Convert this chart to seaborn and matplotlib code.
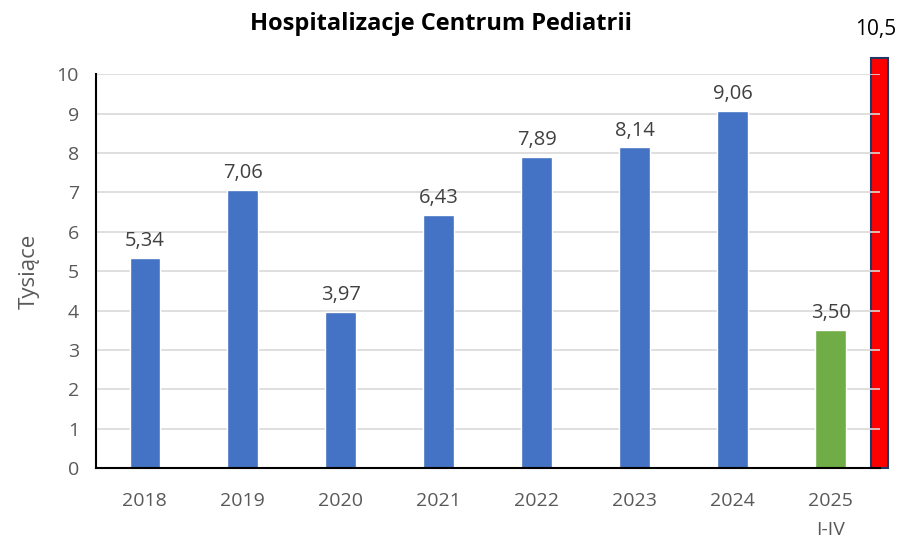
import pandas as pd
import seaborn as sns
import matplotlib.pyplot as plt

# dane (tysiące hospitalizacji)
years = ["2018", "2019", "2020", "2021", "2022", "2023", "2024", "2025\nI-IV"]
values = [5.34, 7.06, 3.97, 6.43, 7.89, 8.14, 9.06, 3.50]
kinds = ["full", "full", "full", "full", "full", "full", "full", "partial"]
target_value = 10.4
target_label = "10,5"

df = pd.DataFrame({"rok": years, "wartosc": values, "typ": kinds})

sns.set_theme(style="white")
plt.rcParams["font.family"] = ["Open Sans", "DejaVu Sans"]

fig = plt.figure(figsize=(9.03, 5.38), dpi=100)
ax = fig.add_axes([0.106, 0.130, 0.868, 0.732])

sns.barplot(
    data=df, x="rok", y="wartosc", hue="typ",
    palette={"full": "#4472C4", "partial": "#70AD47"},
    width=0.31, dodge=False, legend=False, saturation=1, ax=ax, zorder=2,
)

for c in ax.containers:
    ax.bar_label(c, labels=[f"{v:.2f}".replace(".", ",") for v in c.datavalues],
                 padding=5, fontsize=14.5, color="#404040")

# czerwony słupek na prawej krawędzi
red = ax.bar([len(years) - 0.5], [target_value], width=0.17, color="#FF0000",
             edgecolor="#1F3864", linewidth=1.5, zorder=0.2, clip_on=False)
ax.annotate(target_label, xy=(len(years) - 0.5, target_value), xytext=(-3, 13),
            textcoords="offset points", ha="center", va="bottom", fontsize=15,
            color="black", annotation_clip=False)

ax.set_xlim(-0.5, len(years) - 0.5)
ax.set_ylim(0, 10)
ax.set_yticks(range(0, 11))
ax.set_axisbelow(True)
ax.yaxis.grid(True, color="#D9D9D9", linewidth=1.2)

ax.tick_params(axis="both", length=0, labelsize=14, labelcolor="#595959")
ax.tick_params(axis="x", pad=17)
ax.tick_params(axis="y", pad=12)
for lbl in ax.get_xticklabels():
    lbl.set_linespacing(1.8)

for side in ["top", "right"]:
    ax.spines[side].set_visible(False)
ax.spines["left"].set_color("black")
ax.spines["bottom"].set_color("black")
ax.spines["left"].set_linewidth(1.5)
ax.spines["bottom"].set_linewidth(1.5)

ax.set_xlabel("")
ax.set_ylabel("Tysiące", fontsize=16, color="#595959", labelpad=12)
fig.text(0.488, 0.955, "Hospitalizacje Centrum Pediatrii", ha="center", va="center",
         fontsize=17, fontweight="bold", color="black",
         family=["Open Sans", "DejaVu Sans"])

fig.savefig("out.png", dpi=100)
